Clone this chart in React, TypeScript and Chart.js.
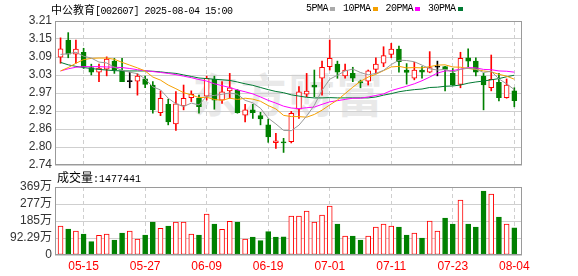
import React, { useEffect, useRef } from "react";
import { Chart, registerables } from "chart.js";

Chart.register(...registerables);

// ---------- data ----------
const dates = [
  "05-12", "05-13", "05-14", "05-15", "05-16", "05-19", "05-20", "05-21", "05-22", "05-23",
  "05-26", "05-27", "05-28", "05-29", "05-30", "06-03", "06-04", "06-05", "06-06", "06-09",
  "06-10", "06-11", "06-12", "06-13", "06-16", "06-17", "06-18", "06-19", "06-20", "06-23",
  "06-24", "06-25", "06-26", "06-27", "06-30", "07-01", "07-02", "07-03", "07-04", "07-07",
  "07-08", "07-09", "07-10", "07-11", "07-14", "07-15", "07-16", "07-17", "07-18", "07-21",
  "07-22", "07-23", "07-24", "07-25", "07-28", "07-29", "07-30", "07-31", "08-01", "08-04",
];

const opens = [
  3.092, 3.148, 3.102, 3.108, 3.058, 3.043, 3.053, 3.079, 3.047, 3.012,
  3.014, 3.021, 3.001, 2.911, 2.938, 2.874, 2.933, 2.960, 2.958, 2.965,
  3.020, 2.952, 2.982, 2.984, 2.903, 2.920, 2.901, 2.871, 2.813, 2.814,
  2.816, 2.922, 2.971, 3.001, 3.023, 3.061, 3.069, 3.031, 3.039, 3.012,
  3.014, 3.052, 3.072, 3.101, 3.118, 3.050, 3.023, 3.050, 3.043, 3.059,
  3.061, 3.039, 3.003, 3.090, 3.079, 3.030, 2.992, 3.010, 2.960, 2.982,
];
const highs = [
  3.155, 3.172, 3.148, 3.121, 3.069, 3.069, 3.093, 3.088, 3.088, 3.043,
  3.038, 3.030, 3.012, 2.982, 2.955, 2.980, 3.001, 2.982, 2.968, 3.030,
  3.030, 3.012, 3.039, 2.986, 2.938, 2.938, 2.912, 2.890, 2.843, 2.827,
  2.915, 2.996, 3.039, 3.050, 3.079, 3.148, 3.079, 3.069, 3.059, 3.017,
  3.050, 3.090, 3.126, 3.137, 3.128, 3.071, 3.075, 3.061, 3.110, 3.079,
  3.062, 3.055, 3.108, 3.119, 3.090, 3.039, 3.099, 3.039, 3.021, 2.992,
];
const lows = [
  3.072, 3.090, 3.072, 3.055, 3.034, 3.012, 3.031, 3.039, 3.012, 2.992,
  2.968, 2.992, 2.909, 2.901, 2.871, 2.853, 2.920, 2.947, 2.909, 2.952,
  2.922, 2.941, 2.958, 2.909, 2.881, 2.892, 2.871, 2.814, 2.794, 2.781,
  2.812, 2.892, 2.963, 2.963, 2.968, 3.050, 3.023, 3.023, 3.012, 2.992,
  3.001, 3.039, 3.061, 3.090, 3.043, 3.004, 3.018, 3.023, 3.041, 3.031,
  2.982, 3.000, 2.992, 3.061, 3.031, 2.920, 2.982, 2.949, 2.958, 2.930,
];
const closes = [
  3.119, 3.102, 3.118, 3.061, 3.043, 3.056, 3.086, 3.050, 3.012, 3.012,
  3.030, 3.003, 2.920, 2.958, 2.881, 2.940, 2.958, 2.971, 2.930, 3.023,
  2.952, 2.979, 2.992, 2.911, 2.920, 2.911, 2.890, 2.832, 2.819, 2.812,
  2.909, 2.979, 2.981, 2.994, 3.059, 3.088, 3.043, 3.050, 3.023, 3.008,
  3.047, 3.069, 3.097, 3.118, 3.077, 3.042, 3.050, 3.043, 3.058, 3.059,
  3.052, 3.001, 3.088, 3.079, 3.043, 3.001, 3.020, 2.960, 3.001, 2.950,
];

const ma5 = [
  3.101, 3.103, 3.108, 3.095, 3.089, 3.076, 3.073, 3.059, 3.049, 3.043,
  3.038, 3.021, 2.995, 2.985, 2.958, 2.940, 2.931, 2.942, 2.936, 2.964,
  2.967, 2.971, 2.975, 2.971, 2.951, 2.943, 2.925, 2.893, 2.874, 2.853,
  2.852, 2.870, 2.900, 2.935, 2.984, 3.020, 3.033, 3.047, 3.053, 3.042,
  3.034, 3.039, 3.049, 3.068, 3.082, 3.081, 3.077, 3.066, 3.054, 3.050,
  3.052, 3.043, 3.052, 3.056, 3.053, 3.042, 3.046, 3.021, 3.005, 2.986,
];
const ma10 = [
  3.047, 3.058, 3.072, 3.084, 3.088, 3.089, 3.089, 3.085, 3.075, 3.066,
  3.057, 3.047, 3.027, 3.017, 3.001, 2.989, 2.976, 2.969, 2.960, 2.961,
  2.954, 2.951, 2.958, 2.954, 2.958, 2.955, 2.948, 2.934, 2.923, 2.902,
  2.898, 2.898, 2.896, 2.905, 2.919, 2.936, 2.952, 2.973, 2.994, 3.013,
  3.027, 3.036, 3.048, 3.060, 3.062, 3.057, 3.058, 3.057, 3.061, 3.066,
  3.067, 3.060, 3.059, 3.055, 3.052, 3.047, 3.044, 3.036, 3.030, 3.020,
];
const ma20 = [
  3.047, 3.054, 3.059, 3.061, 3.061, 3.061, 3.060, 3.059, 3.058, 3.055,
  3.051, 3.048, 3.045, 3.042, 3.039, 3.035, 3.030, 3.025, 3.019, 3.014,
  3.005, 2.999, 2.993, 2.985, 2.979, 2.972, 2.962, 2.951, 2.942, 2.932,
  2.926, 2.924, 2.927, 2.929, 2.938, 2.946, 2.950, 2.954, 2.958, 2.958,
  2.962, 2.967, 2.972, 2.983, 2.990, 2.997, 3.005, 3.015, 3.027, 3.040,
  3.047, 3.048, 3.053, 3.058, 3.057, 3.052, 3.051, 3.047, 3.046, 3.043,
];
const ma30 = [
  3.075, 3.067, 3.062, 3.058, 3.055, 3.052, 3.050, 3.048, 3.047, 3.047,
  3.047, 3.047, 3.046, 3.044, 3.041, 3.039, 3.034, 3.029, 3.024, 3.022,
  3.020, 3.018, 3.016, 3.011, 3.005, 3.000, 2.993, 2.986, 2.980, 2.976,
  2.969, 2.965, 2.961, 2.959, 2.959, 2.960, 2.959, 2.959, 2.959, 2.959,
  2.959, 2.962, 2.968, 2.973, 2.979, 2.983, 2.986, 2.988, 2.993, 2.994,
  2.997, 2.998, 3.001, 3.007, 3.011, 3.014, 3.018, 3.022, 3.028, 3.033,
];

const volumes = [
  1574000, 1411000, 1303000, 1140000, 724000, 1068000, 1140000, 814000, 1194000, 1303000,
  869000, 1086000, 1792000, 1448000, 1574000, 1792000, 1792000, 1140000, 1086000, 2226000,
  1683000, 1394000, 1828000, 1792000, 869000, 977000, 778000, 1267000, 977000, 990000,
  2117000, 2117000, 2389000, 1792000, 2172000, 2660000, 1683000, 1031000, 1031000, 814000,
  1031000, 1520000, 1683000, 1574000, 1520000, 1086000, 1194000, 923000, 1846000, 1303000,
  2009000, 1683000, 2986000, 1683000, 1520000, 3474000, 3312000, 2063000, 1683000, 1477441,
];

const priceTicks = [2.74, 2.79875, 2.8575, 2.91625, 2.975, 3.03375, 3.0925, 3.15125, 3.21];
const priceTickLabels = ["2.74", "2.80", "2.86", "2.92", "2.97", "3.03", "3.09", "3.15", "3.21"];
const volTicks = [0, 922900, 1845800, 2768700, 3691600];
const volTickLabels = ["0", "92.29万", "185万", "277万", "369万"];
const labelIdx = [3, 11, 19, 27, 35, 43, 51, 59];

const titleName = "中公教育";
const titleCode = "[002607] 2025-08-04 15:00";
const volTitle = "成交量";
const volValue = ":1477441";
const legendItems = [
  { label: "5PMA", color: "#aaaaaa" },
  { label: "10PMA", color: "#f5a000" },
  { label: "20PMA", color: "#ff00ff" },
  { label: "30PMA", color: "#007a33" },
];
const watermark = "东方财富";

// ---------- styling ----------
const RED = "#ff0000";
const GREEN = "#008000";
const BLACK = "#000000";
const GRID = "#cfcfcf";
const FRAME = "#9a9a9a";
const W = 578;
const H = 276;
const X_MIN = -0.72;
const X_MAX = 60.0;
const AXIS_FONT = { family: "'Liberation Sans', 'Noto Sans CJK SC', Arial, sans-serif", size: 12 };

const candleColor = (i: number) =>
  closes[i] > opens[i] ? RED : closes[i] < opens[i] ? GREEN : BLACK;
const volUp = (i: number) => i === 0 || closes[i] >= closes[i - 1];

const framePlugin = {
  id: "frame",
  afterDraw(chart: any) {
    const { ctx, chartArea: a } = chart;
    ctx.save();
    ctx.strokeStyle = FRAME;
    ctx.lineWidth = 1;
    ctx.strokeRect(
      Math.round(a.left) + 0.5,
      Math.round(a.top) + 0.5,
      Math.round(a.right - a.left) - 1,
      Math.round(a.bottom - a.top) - 1
    );
    ctx.restore();
  },
};

const xScale = (showLabels: boolean) => ({
  type: "linear" as const,
  min: X_MIN,
  max: X_MAX,
  offset: false,
  afterBuildTicks: (s: any) => {
    s.ticks = labelIdx.map((v) => ({ value: v }));
  },
  afterFit: (s: any) => {
    s.height = showLabels ? 21 : 0;
  },
  ticks: {
    display: showLabels,
    autoSkip: false,
    maxRotation: 0,
    color: RED,
    font: AXIS_FONT,
    padding: 4,
    callback: (v: any) => dates[Math.round(Number(v))] ?? "",
  },
  grid: { color: GRID, drawTicks: false, offset: false },
  border: { display: false, dash: [4, 3] },
});

const yScale = (min: number, max: number, ticks: number[], labels: string[]) => ({
  min,
  max,
  afterBuildTicks: (s: any) => {
    s.ticks = ticks.map((v) => ({ value: v }));
  },
  afterFit: (s: any) => {
    s.width = 55;
  },
  ticks: {
    autoSkip: false,
    color: "#333333",
    font: AXIS_FONT,
    padding: 3,
    callback: (_v: any, i: number) => labels[i],
  },
  grid: { color: GRID, drawTicks: false },
  border: { display: false },
});

export default function App() {
  const priceRef = useRef<HTMLCanvasElement>(null);
  const volRef = useRef<HTMLCanvasElement>(null);

  useEffect(() => {
    const idx = dates.map((_, i) => i);
    const maLine = (vals: number[], color: string, order: number) =>
      ({
        type: "line",
        data: idx.map((i) => ({ x: i, y: vals[i] })),
        borderColor: color,
        borderWidth: 1,
        pointRadius: 0,
        order,
      } as any);

    const price = new Chart(priceRef.current as HTMLCanvasElement, {
      type: "bar",
      data: {
        datasets: [
          maLine(ma5, "#999999", -4),
          maLine(ma10, "#f5a000", -3),
          maLine(ma20, "#ff00ff", -2),
          maLine(ma30, "#007a33", -1),
          {
            type: "bar",
            data: idx.map((i) => ({ x: i, y: [opens[i], closes[i]] })),
            backgroundColor: idx.map((i) => (closes[i] > opens[i] ? "#ffffff" : candleColor(i))),
            borderColor: idx.map((i) => candleColor(i)),
            borderWidth: 1,
            borderSkipped: false,
            barThickness: 5,
            minBarLength: 1,
            grouped: false,
            order: 0,
          } as any,
          {
            type: "bar",
            data: idx.map((i) => ({ x: i, y: [lows[i], highs[i]] })),
            backgroundColor: idx.map((i) => candleColor(i)),
            borderWidth: 0,
            barThickness: 1,
            grouped: false,
            order: 1,
          } as any,
        ],
      },
      options: {
        animation: false,
        responsive: false,
        events: [],
        layout: { padding: { top: 21, bottom: H - 165, left: 0, right: W - 522 } },
        plugins: { legend: { display: false }, tooltip: { enabled: false }, title: { display: false } },
        scales: {
          x: xScale(false) as any,
          y: yScale(2.74, 3.21, priceTicks, priceTickLabels) as any,
        },
      },
      plugins: [framePlugin],
    });

    const vol = new Chart(volRef.current as HTMLCanvasElement, {
      type: "bar",
      data: {
        datasets: [
          {
            data: idx.map((i) => ({ x: i, y: volumes[i] })),
            backgroundColor: idx.map((i) => (volUp(i) ? "#ffffff" : GREEN)),
            borderColor: idx.map((i) => (volUp(i) ? RED : GREEN)),
            borderWidth: 1,
            borderSkipped: false,
            barThickness: 5,
            grouped: false,
          } as any,
        ],
      },
      options: {
        animation: false,
        responsive: false,
        events: [],
        layout: { padding: { top: 187, bottom: 0, left: 0, right: W - 522 } },
        plugins: { legend: { display: false }, tooltip: { enabled: false } },
        scales: {
          x: xScale(true) as any,
          y: yScale(0, 3691600, volTicks, volTickLabels) as any,
        },
      },
      plugins: [framePlugin],
    });

    return () => {
      price.destroy();
      vol.destroy();
    };
  }, []);

  const mono = "'Liberation Mono', 'DejaVu Sans Mono', monospace";
  const cjk = "'Noto Sans CJK SC', sans-serif";

  return (
    <div
      style={{
        position: "absolute",
        left: 0,
        top: 0,
        width: W,
        height: H,
        background: "#ffffff",
        overflow: "hidden",
      }}
    >
      <div
        style={{
          position: "absolute",
          left: 55,
          width: 467,
          top: 66,
          textAlign: "center",
          fontFamily: cjk,
          fontWeight: 700,
          fontSize: 46,
          lineHeight: "52px",
          color: "#e9e9e9",
          letterSpacing: 2,
        }}
      >
        {watermark}
      </div>
      <canvas ref={priceRef} width={W} height={H} style={{ position: "absolute", left: 0, top: 0 }} />
      <canvas ref={volRef} width={W} height={H} style={{ position: "absolute", left: 0, top: 0 }} />
      <div
        style={{
          position: "absolute",
          left: 51,
          top: 2,
          height: 14,
          lineHeight: "14px",
          whiteSpace: "nowrap",
          color: "#000",
        }}
      >
        <span style={{ fontFamily: cjk, fontSize: 11 }}>{titleName}</span>
        <span style={{ fontFamily: mono, fontSize: 10, letterSpacing: -0.5 }}>{titleCode}</span>
      </div>
      <div
        style={{
          position: "absolute",
          left: 306,
          top: 2,
          height: 14,
          lineHeight: "14px",
          whiteSpace: "nowrap",
          display: "flex",
          alignItems: "center",
        }}
      >
        {legendItems.map((it) => (
          <span key={it.label} style={{ display: "flex", alignItems: "center", marginRight: 8 }}>
            <span style={{ fontFamily: mono, fontSize: 10, letterSpacing: -0.5, color: "#000" }}>
              {it.label}
            </span>
            <span
              style={{
                display: "inline-block",
                width: 5,
                height: 4,
                background: it.color,
                marginLeft: 2,
              }}
            />
          </span>
        ))}
      </div>
      <div
        style={{
          position: "absolute",
          left: 57,
          top: 170,
          height: 14,
          lineHeight: "14px",
          whiteSpace: "nowrap",
          color: "#000",
        }}
      >
        <span style={{ fontFamily: cjk, fontSize: 12 }}>{volTitle}</span>
        <span style={{ fontFamily: mono, fontSize: 10 }}>{volValue}</span>
      </div>
    </div>
  );
}
